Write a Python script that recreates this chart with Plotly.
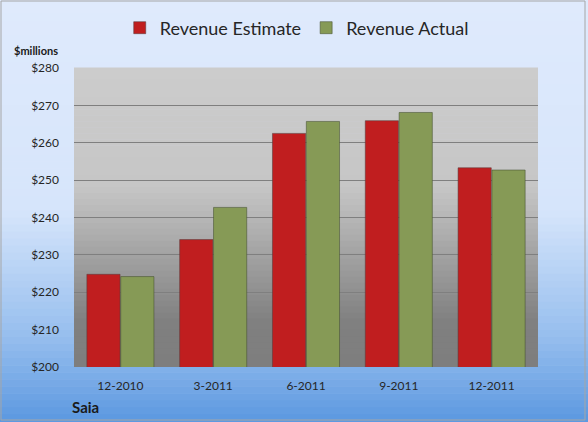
import plotly.graph_objects as go

quarters = ["12-2010", "3-2011", "6-2011", "9-2011", "12-2011"]
estimate = [224.8, 234.1, 262.5, 265.9, 253.3]
actual = [224.2, 242.7, 265.7, 268.1, 252.7]

W, H = 588, 422
L, R, T, B = 74, 50, 68, 55
PW, PH = W - L - R, H - T - B


def mix(c1, c2, f):
    return "rgb(%d,%d,%d)" % tuple(round(a + (b - a) * f) for a, b in zip(c1, c2))


def gradient(stops, n, xref, yref, x0, x1, y0, y1):
    # stops: list of (pos 0=top..1=bottom, rgb)
    out = []
    for i in range(n):
        p = (i + 0.5) / n
        for (p0, c0), (p1, c1) in zip(stops, stops[1:]):
            if p0 <= p <= p1:
                col = mix(c0, c1, (p - p0) / (p1 - p0) if p1 > p0 else 0)
                break
        top = y1 - (y1 - y0) * i / n
        bot = y1 - (y1 - y0) * (i + 1) / n
        out.append(dict(type="rect", xref=xref, yref=yref, x0=x0, x1=x1,
                        y0=bot, y1=top + 0.002, fillcolor=col, line_width=0,
                        layer="below"))
    return out


fig = go.Figure()
fig.add_trace(go.Bar(x=quarters, y=estimate, name="Revenue Estimate",
                     marker=dict(color="#c01e1f",
                                 line=dict(color="rgba(90,60,60,0.55)", width=1))))
fig.add_trace(go.Bar(x=quarters, y=actual, name="Revenue Actual",
                     marker=dict(color="#869a56",
                                 line=dict(color="rgba(70,80,50,0.55)", width=1))))

shapes = []
# page background
shapes += gradient([(0, (223, 234, 252)), (0.5, (214, 229, 251)),
                    (0.8, (150, 190, 238)), (1, (92, 152, 224))],
                   60, "paper", "paper", -L / PW, 1 + R / PW, -B / PH, 1 + T / PH)
# plot area
shapes += gradient([(0, (204, 204, 204)), (0.4, (198, 198, 198)),
                    (0.85, (128, 128, 128)), (1, (126, 126, 126))],
                   50, "x domain", "y domain", 0, 1, 0, 1)
# outer border
shapes.append(dict(type="rect", xref="paper", yref="paper",
                   x0=-(L - 1) / PW, x1=1 + (R - 3) / PW,
                   y0=-(B - 2) / PH, y1=1 + (T - 1) / PH,
                   line=dict(color="#a6a6a6", width=1), fillcolor="rgba(0,0,0,0)",
                   layer="above"))

fig.update_layout(
    width=W, height=H,
    margin=dict(l=L, r=R, t=T, b=B, autoexpand=False),
    paper_bgcolor="#dfeafc",
    plot_bgcolor="rgba(0,0,0,0)",
    font=dict(family="Lato, Open Sans, sans-serif", size=12, color="#262626"),
    barmode="group", bargap=0.27, bargroupgap=0.02,
    shapes=shapes,
    legend=dict(orientation="h", x=0.48, xanchor="center", y=1 + 40 / PH,
                yanchor="middle", font=dict(size=18, color="#262626"),
                bgcolor="rgba(0,0,0,0)", itemwidth=30),
    annotations=[
        dict(text="<b>$millions</b>", xref="paper", yref="paper",
             x=-62 / PW, y=1 + 18 / PH, xanchor="left",
             yanchor="middle", showarrow=False, font=dict(size=11, color="#1a1a1a")),
        dict(text="<b>Saia</b>", xref="paper", yref="paper",
             x=-4 / PW, y=-40 / PH, xanchor="left",
             yanchor="middle", showarrow=False, font=dict(size=15, color="#1a1a1a")),
    ],
)
fig.update_yaxes(range=[200, 280], dtick=10, tickprefix="$",
                 showgrid=True, gridcolor="#7f7f7f", gridwidth=1,
                 zeroline=False, showline=False, tickfont=dict(size=12),
                 ticklabelstandoff=14)
fig.update_xaxes(showgrid=False, showline=False, ticks="", ticklen=0,
                 tickfont=dict(size=12), ticklabelstandoff=10)

# page body has a default 8px margin; drop it so the chart fills the window
fig.write_html("out.html", config={"displayModeBar": False},
               post_script="document.body.style.margin='0';")
